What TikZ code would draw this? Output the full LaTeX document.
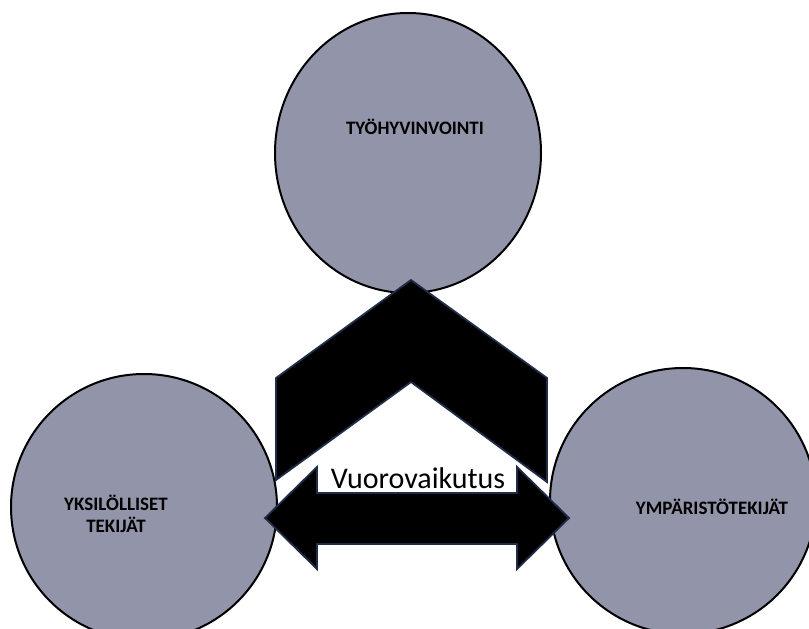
\documentclass[tikz,border=0pt]{standalone}
\usepackage{fontspec}
\setmainfont{Carlito}
\usetikzlibrary{shapes.geometric}
\definecolor{discfill}{HTML}{9294A9}
\definecolor{shapeedge}{HTML}{1F2D4A}
\tikzset{
  disc/.style={draw=black, line width=2pt, fill=discfill, inner sep=0pt},
  blockshape/.style={draw=shapeedge, line width=1.8pt, fill=black, line join=miter},
  caption/.style={font=\fontsize{19}{22}\selectfont\bfseries, align=center, inner sep=0pt}
}
\begin{document}
\begin{tikzpicture}[x=1pt, y=-1pt]
  \useasboundingbox (0,0) rectangle (809,629);

  % three factor discs
  \node[disc, ellipse, minimum width=266pt, minimum height=280pt] (top) at (408,153) {};
  \node[disc, circle, minimum size=266pt] (left) at (144,507) {};
  \node[disc, circle, minimum size=266pt] (right) at (683,501) {};

  \node[caption] (topl) at (415,127) {TYÖHYVINVOINTI};
  \node[caption] (leftl) at (116,514) {YKSILÖLLISET\\TEKIJÄT};
  \node[caption] (rightl) at (712,507) {YMPÄRISTÖTEKIJÄT};

  % upward chevron
  \coordinate (c1) at (276,378);
  \coordinate (c2) at (411,280);
  \coordinate (c3) at (547,378);
  \coordinate (c4) at (547,482);
  \coordinate (c5) at (411,382);
  \coordinate (c6) at (276,480);
  \draw[blockshape] (c1) -- (c2) -- (c3) -- (c4) -- (c5) -- (c6) -- cycle;

  % horizontal double arrow
  \coordinate (a1) at (265,518);
  \coordinate (a2) at (317,467);
  \coordinate (a3) at (317,493);
  \coordinate (a4) at (517,493);
  \coordinate (a5) at (517,467);
  \coordinate (a6) at (569,518);
  \coordinate (a7) at (517,569);
  \coordinate (a8) at (517,544);
  \coordinate (a9) at (317,544);
  \coordinate (a10) at (317,569);
  \draw[blockshape] (a1) -- (a2) -- (a3) -- (a4) -- (a5) -- (a6) -- (a7) -- (a8) -- (a9) -- (a10) -- cycle;

  \node[font=\fontsize{30}{32}\selectfont, inner sep=0pt] (mid) at (418,478) {Vuorovaikutus};
\end{tikzpicture}
\end{document}
